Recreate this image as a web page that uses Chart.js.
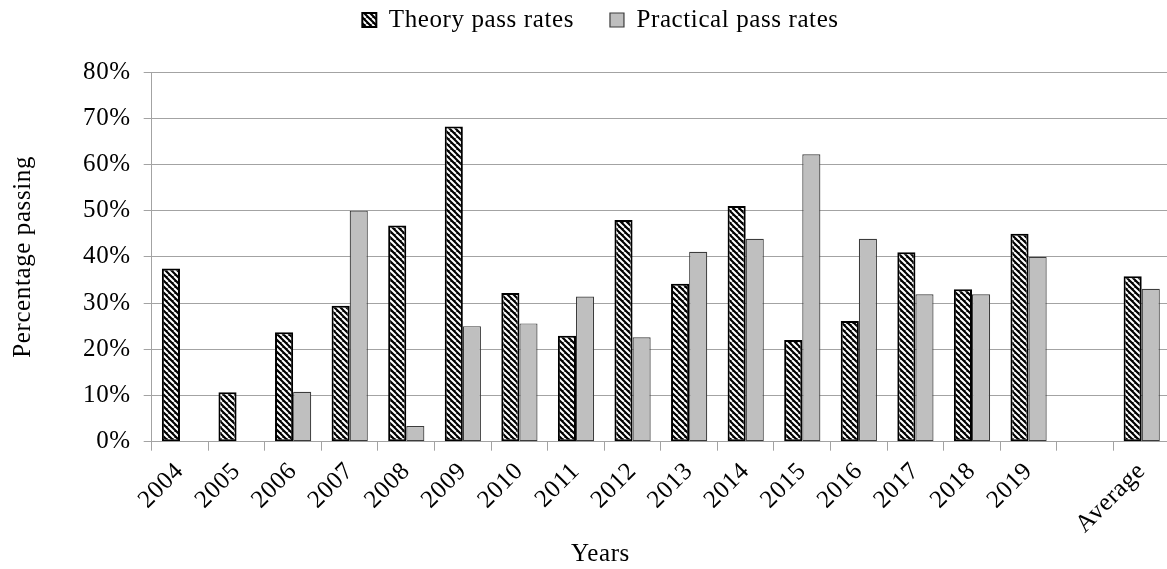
<!DOCTYPE html>
<html>
<head>
<meta charset="utf-8">
<script src="https://cdn.jsdelivr.net/npm/chart.js@4.4.1/dist/chart.umd.min.js"></script>
<style>
html,body{margin:0;padding:0;background:#fff;overflow:hidden}
#wrap{width:1170px;height:569px}
</style>
</head>
<body>
<div id="wrap"><canvas id="c" width="1170" height="569"></canvas></div>
<script>
// ---- data ----
const categories = ['2004','2005','2006','2007','2008','2009','2010','2011','2012','2013','2014','2015','2016','2017','2018','2019','','Average'];
const theoryRates = [37.5, 10.7, 23.7, 29.4, 46.8, 68.2, 32.2, 22.9, 48.0, 34.2, 51.0, 22.0, 26.1, 41.0, 33.0, 45.0, null, 35.8];
const practicalRates = [null, null, 10.8, 50.0, 3.4, 25.0, 25.6, 31.4, 22.6, 41.1, 43.9, 62.2, 43.9, 31.9, 31.9, 40.0, null, 33.1];
const seriesNames = ['Theory pass rates', 'Practical pass rates'];
const yTickValues = [0, 10, 20, 30, 40, 50, 60, 70, 80];
const xAxisTitle = 'Years';
const yAxisTitle = 'Percentage passing';

// ---- styles ----
const FONT = "'Liberation Serif', 'Times New Roman', serif";
const FS = 25;
const GRID = '#a3a3a3';
Chart.defaults.font.family = FONT;
Chart.defaults.font.size = FS;
Chart.defaults.color = '#000';

function stripePattern() {
  const p = document.createElement('canvas');
  p.width = 6; p.height = 6;
  const g = p.getContext('2d');
  g.fillStyle = '#000';
  g.fillRect(0, 0, 6, 6);
  g.strokeStyle = '#fff';
  g.lineWidth = 2;
  g.beginPath();
  for (const k of [-6, 0, 6]) { g.moveTo(k, 0); g.lineTo(k + 6, 6); }
  g.stroke();
  return document.getElementById('c').getContext('2d').createPattern(p, 'repeat');
}

const spacing = {
  id: 'spacing',
  beforeLayout(chart) { chart.ctx.letterSpacing = '0.6px'; },
  beforeDraw(chart) { chart.ctx.letterSpacing = '0.6px'; }
};

new Chart(document.getElementById('c'), {
  type: 'bar',
  data: {
    labels: categories,
    datasets: [
      {
        label: seriesNames[0],
        data: theoryRates,
        backgroundColor: stripePattern(),
        borderColor: '#000',
        borderWidth: 2,
        borderSkipped: false
      },
      {
        label: seriesNames[1],
        data: practicalRates,
        backgroundColor: '#bfbfbf',
        borderColor: '#3c3c3c',
        borderWidth: 1.2,
        borderSkipped: false
      }
    ]
  },
  options: {
    responsive: false,
    animation: false,
    devicePixelRatio: 1,
    layout: { padding: { top: -28.5, left: 31, right: 0, bottom: 0 } },
    datasets: { bar: { categoryPercentage: 0.64, barPercentage: 1.0 } },
    plugins: {
      tooltip: { enabled: false },
      legend: {
        position: 'top',
        labels: { boxWidth: 14, boxHeight: 14, padding: 36, color: '#000', font: { size: FS } }
      },
      subtitle: {
        display: true, text: '', position: 'top', weight: 500,
        font: { size: 10, lineHeight: 1 }, padding: { top: 0, bottom: 19.5 }
      },
      title: {
        display: true, text: xAxisTitle, position: 'bottom', color: '#000',
        font: { size: FS, weight: 'normal' }, padding: { top: 0, bottom: 0 }
      }
    },
    scales: {
      x: {
        afterFit(s) { s.height = 97.3; },
        grid: { display: true, drawOnChartArea: false, drawTicks: true, tickLength: 9, color: GRID, offset: true },
        border: { display: true, color: GRID, width: 1 },
        ticks: { color: '#000', font: { size: FS }, minRotation: 45, maxRotation: 45, autoSkip: false, padding: 6 }
      },
      y: {
        min: 0, max: 80,
        afterFit(s) { s.width = 151.7 - 31; },
        afterBuildTicks(s) { s.ticks = yTickValues.map(v => ({ value: v })); },
        grid: { color: GRID, tickLength: 8, drawTicks: true },
        border: { display: true, color: GRID, width: 1 },
        ticks: { color: '#000', font: { size: FS }, padding: 13, callback: v => v + '%' },
        title: { display: true, text: yAxisTitle, color: '#000', font: { size: FS }, padding: { top: -23, bottom: 0 } }
      }
    }
  },
  plugins: [spacing]
});
</script>
</body>
</html>
